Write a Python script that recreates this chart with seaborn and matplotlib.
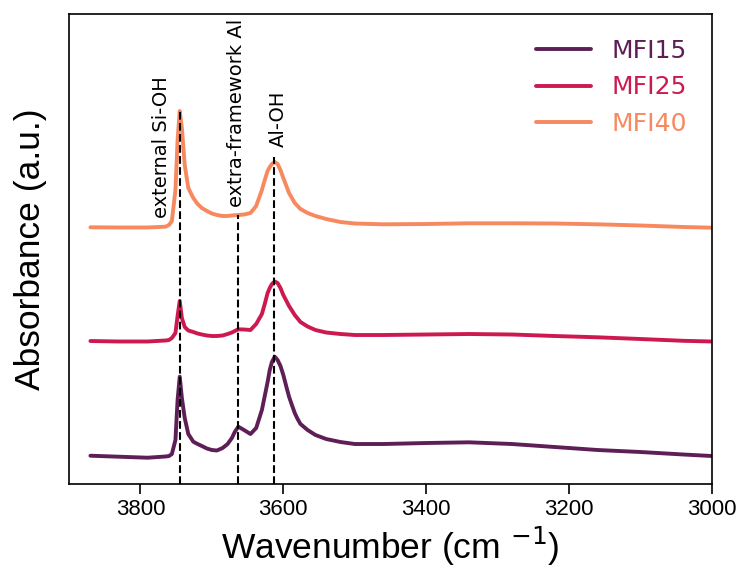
import numpy as np
import pandas as pd
import matplotlib
matplotlib.use("Agg")
import matplotlib.pyplot as plt
import seaborn as sns

wavenumber = [3870, 3830, 3790, 3765, 3760, 3756, 3751, 3748, 3745, 3742, 3738, 3733,
              3726, 3720, 3714, 3707, 3700, 3693, 3685, 3678, 3672, 3668, 3663, 3655,
              3646, 3638, 3630, 3626, 3622, 3619, 3616, 3612, 3608, 3604, 3600, 3596,
              3592, 3588, 3584, 3580, 3576, 3566, 3555, 3540, 3520, 3500, 3460, 3400,
              3340, 3280, 3220, 3160, 3100, 3040, 3000]

mfi15 = [0.283, 0.273, 0.263, 0.275, 0.28, 0.30, 0.44, 0.84, 1.073, 0.86, 0.66, 0.50,
         0.423, 0.40, 0.38, 0.355, 0.34, 0.335, 0.36, 0.40, 0.46, 0.52, 0.573, 0.54,
         0.50, 0.56, 0.74, 0.88, 1.02, 1.14, 1.22, 1.273, 1.24, 1.18, 1.09, 0.98,
         0.873, 0.79, 0.71, 0.65, 0.60, 0.54, 0.49, 0.45, 0.42, 0.40, 0.40, 0.41,
         0.417, 0.40, 0.37, 0.34, 0.32, 0.295, 0.28]

mfi25 = [1.43, 1.425, 1.425, 1.435, 1.44, 1.46, 1.51, 1.68, 1.83, 1.66, 1.57, 1.535,
         1.52, 1.505, 1.495, 1.485, 1.48, 1.48, 1.485, 1.50, 1.515, 1.53, 1.547, 1.545,
         1.54, 1.60, 1.70, 1.80, 1.91, 1.96, 2.00, 2.025, 2.01, 1.96, 1.89, 1.835,
         1.78, 1.735, 1.69, 1.655, 1.62, 1.575, 1.54, 1.515, 1.50, 1.49, 1.49, 1.495,
         1.50, 1.495, 1.48, 1.467, 1.45, 1.432, 1.425]

mfi40 = [2.567, 2.565, 2.565, 2.573, 2.59, 2.63, 2.94, 3.44, 3.73, 3.56, 3.19, 2.96,
         2.86, 2.80, 2.76, 2.73, 2.705, 2.69, 2.68, 2.68, 2.685, 2.688, 2.69, 2.695,
         2.71, 2.78, 2.94, 3.04, 3.13, 3.17, 3.20, 3.22, 3.20, 3.14, 3.06, 2.985,
         2.91, 2.86, 2.81, 2.78, 2.75, 2.71, 2.68, 2.65, 2.62, 2.605, 2.597, 2.60,
         2.607, 2.607, 2.605, 2.597, 2.585, 2.57, 2.563]

samples = ["MFI15", "MFI25", "MFI40"]
colors = ["#5e1f57", "#cc1a50", "#f7895e"]

band_positions = [3745, 3663, 3613]
band_tops = [3.73, 2.69, 3.27]
band_labels = ["external Si-OH", "extra-framework Al", "Al-OH"]
label_x = [3770, 3666, 3607]
label_y = [2.66, 2.77, 3.37]

xticks = [3800, 3600, 3400, 3200, 3000]

df = pd.concat([
    pd.DataFrame({"Wavenumber": wavenumber, "Absorbance": vals, "Sample": name})
    for name, vals in zip(samples, [mfi15, mfi25, mfi40])
], ignore_index=True)

sns.set_style("white")
plt.rcParams["font.family"] = ["DejaVu Sans"]
plt.rcParams["text.color"] = "black"
plt.rcParams["axes.labelcolor"] = "black"
plt.rcParams["xtick.color"] = "black"

fig = plt.figure(figsize=(7.45, 5.76), dpi=100)
ax = fig.add_axes([0.0926, 0.1597, 0.8631, 0.8160])

sns.lineplot(data=df, x="Wavenumber", y="Absorbance", hue="Sample",
             palette=dict(zip(samples, colors)), linewidth=2.8, ax=ax,
             sort=False, estimator=None)

ax.vlines(band_positions, 0, band_tops, colors="black", linestyles="--", linewidth=1.5)
for lx, ly, lab in zip(label_x, label_y, band_labels):
    ax.text(lx, ly, lab, rotation=90, ha="center", va="bottom", fontsize=14,
            family="DejaVu Sans", color="black")

ax.set_xlim(3900, 3000)
ax.set_ylim(0, 4.70)
ax.set_xticks(xticks)
ax.set_xticklabels([str(t) for t in xticks], family="Liberation Sans", fontsize=16)
ax.set_yticks([])
ax.tick_params(axis="x", direction="out", length=7, width=1.2, color="black",
               labelcolor="black", bottom=True)
for s in ax.spines.values():
    s.set_color("black")
    s.set_linewidth(1.2)

ax.set_xlabel(r"Wavenumber (cm $^{-1}$)", fontsize=25.5, family="Liberation Sans", labelpad=4)
ax.set_ylabel("Absorbance (a.u.)", fontsize=25.5, family="Liberation Sans", labelpad=16)

leg = ax.legend(loc="upper right", frameon=False, fontsize=18, handlelength=2.2,
                labelspacing=0.5, handletextpad=0.8, borderaxespad=0.6)
for txt, c in zip(leg.get_texts(), colors):
    txt.set_color(c)
for h in leg.get_lines():
    h.set_linewidth(2.8)

fig.savefig("out.png", dpi=100)
